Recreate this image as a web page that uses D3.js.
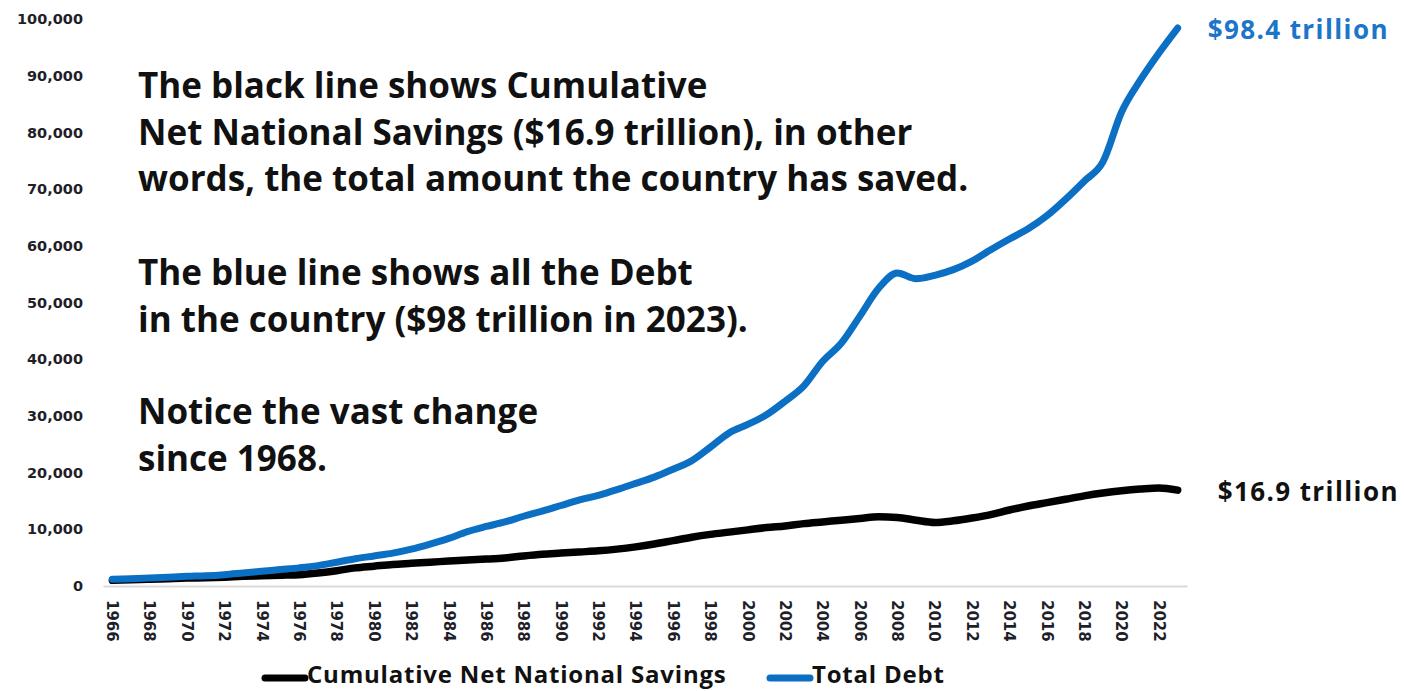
<!DOCTYPE html>
<html>
<head>
<meta charset="utf-8">
<script src="https://cdn.jsdelivr.net/npm/d3@7/dist/d3.min.js"></script>
<style>
  html, body { margin: 0; padding: 0; background: #fff; }
  svg { display: block; }
</style>
</head>
<body>
<svg id="chart" width="1404" height="691"></svg>
<script>
// Years on the category axis
const years = d3.range(1966, 2024);

// Cumulative Net National Savings, $ billions
const savings = [
  1000, 1100, 1200, 1300, 1400, 1450, 1550, 1700, 1800, 1900,
  2000, 2300, 2700, 3200, 3500, 3800, 4000, 4200, 4400, 4600,
  4750, 4950, 5300, 5600, 5800, 6000, 6200, 6500, 6900, 7400,
  8000, 8600, 9100, 9500, 9900, 10300, 10600, 11000, 11300, 11600,
  11900, 12200, 12100, 11600, 11200, 11500, 12000, 12600, 13400, 14100,
  14700, 15300, 15900, 16400, 16800, 17100, 17300, 16900
];

// Total Debt, $ billions
const debt = [
  1200, 1300, 1400, 1550, 1700, 1800, 2000, 2300, 2600, 2900,
  3200, 3600, 4200, 4800, 5300, 5800, 6500, 7400, 8400, 9600,
  10500, 11300, 12300, 13200, 14200, 15200, 16000, 17000, 18100, 19200,
  20600, 22100, 24500, 27000, 28500, 30200, 32600, 35300, 39600, 42800,
  47600, 52500, 55200, 54200, 54800, 55800, 57300, 59300, 61200, 63000,
  65300, 68200, 71400, 74800, 83600, 89200, 94000, 98400
];

const yTicks = d3.range(0, 100001, 10000);
const xTickYears = years.filter(y => (y - 1966) % 2 === 0);

const seriesNames = ["Cumulative Net National Savings", "Total Debt"];
const seriesColors = ["#000000", "#0b6fc4"];

const notes = [
  ["The black line shows Cumulative",
   "Net National Savings ($16.9 trillion), in other",
   "words, the total amount the country has saved."],
  ["The blue line shows all the Debt",
   "in the country ($98 trillion in 2023)."],
  ["Notice the vast change",
   "since 1968."]
];

const endLabels = ["$16.9 trillion", "$98.4 trillion"];

const svg = d3.select("#chart");
const plot = { left: 103, right: 1187, top: 19, bottom: 586 };

const x = d3.scaleBand().domain(years).range([plot.left, plot.right]);
const y = d3.scaleLinear().domain([0, 100000]).range([plot.bottom, plot.top]);
const cx = yr => x(yr) + x.bandwidth() / 2;

const textFont = "'Open Sans', sans-serif";
const axisFont = "'DejaVu Sans', sans-serif";

// Y axis: labels only
const yAxis = d3.axisLeft(y).tickValues(yTicks).tickFormat(d3.format(",")).tickSize(0).tickPadding(0);
const gy = svg.append("g").attr("transform", "translate(83,0)").call(yAxis);
gy.select(".domain").remove();
gy.selectAll("text")
  .attr("font-family", axisFont).attr("font-weight", "bold")
  .attr("font-size", 14.5).attr("fill", "#1f1f2a");

// X axis: light baseline plus rotated year labels
const xAxis = d3.axisBottom(x).tickValues(xTickYears).tickSize(0).tickPadding(0);
const gx = svg.append("g").attr("transform", `translate(0,${plot.bottom})`).call(xAxis);
gx.select(".domain").attr("stroke", "#d9d9d9").attr("stroke-width", 2);
gx.selectAll("text")
  .attr("font-family", axisFont).attr("font-weight", "bold")
  .attr("font-size", 15).attr("fill", "#1f1f2a")
  .attr("text-anchor", "start")
  .attr("dy", "0.35em")
  .attr("transform", "translate(0,14) rotate(90)");

// Series lines
const line = d3.line().x((d, i) => cx(years[i])).y(d => y(d)).curve(d3.curveMonotoneX);
[savings, debt].forEach((vals, k) => {
  svg.append("path")
    .datum(vals)
    .attr("fill", "none")
    .attr("stroke", seriesColors[k])
    .attr("stroke-width", k === 0 ? 7.5 : 7)
    .attr("stroke-linecap", "round")
    .attr("stroke-linejoin", "round")
    .attr("d", line);
});

// End-of-series value labels
[savings, debt].forEach((vals, k) => {
  const last = vals[vals.length - 1];
  svg.append("text")
    .attr("x", cx(years[years.length - 1]) + (k === 0 ? 40 : 30))
    .attr("y", y(last) + 2)
    .attr("dy", "0.35em")
    .attr("font-family", textFont).attr("font-weight", 700)
    .attr("font-size", 26)
    .attr("letter-spacing", 1.4)
    .attr("fill", k === 0 ? "#111" : "#1b75c9")
    .text(endLabels[k]);
});

// Annotation text blocks
const blockTops = [98, 285, 424];
notes.forEach((lines, b) => {
  lines.forEach((t, i) => {
    svg.append("text")
      .attr("x", 138).attr("y", blockTops[b] + i * 46.5)
      .attr("font-family", textFont).attr("font-weight", 700)
      .attr("font-size", 35).attr("fill", "#111")
      .text(t);
  });
});

// Legend
const legendX = [265, 770];
seriesNames.forEach((name, k) => {
  const g = svg.append("g").attr("transform", `translate(${legendX[k]},675)`);
  g.append("line").attr("x1", 0).attr("x2", 40).attr("y1", 3).attr("y2", 3)
    .attr("stroke", seriesColors[k]).attr("stroke-width", 7).attr("stroke-linecap", "round");
  g.append("text").attr("x", 42).attr("dy", "0.35em")
    .attr("font-family", textFont).attr("font-weight", 700)
    .attr("font-size", 24).attr("letter-spacing", 0.8).attr("fill", "#111")
    .text(name);
});
</script>
</body>
</html>
